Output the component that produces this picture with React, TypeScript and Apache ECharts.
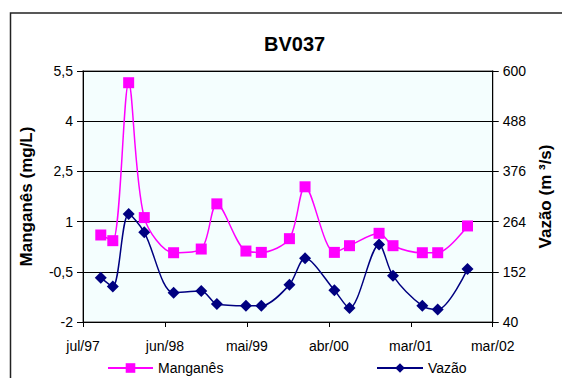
import React, { useEffect, useRef } from "react";
import * as echarts from "echarts";

// Sampling dates (shared by both series)
const sampleDates = [
  "1997-09-13", "1997-11-02", "1998-01-07", "1998-03-13", "1998-07-13", "1998-11-05",
  "1999-01-09", "1999-05-10", "1999-07-13", "1999-11-07", "2000-01-11", "2000-05-12",
  "2000-07-14", "2000-11-14", "2001-01-11", "2001-05-13", "2001-07-16", "2001-11-17",
];
// Manganês (mg/L)
const manganes = [0.6, 0.43, 5.15, 1.12, 0.07, 0.18, 1.53, 0.12, 0.08, 0.49, 2.04, 0.08, 0.28, 0.65, 0.28, 0.07, 0.07, 0.87];
// Vazão (m3/s)
const vazao = [139, 119, 281, 240, 105, 109, 80, 76, 76, 123, 182, 111, 71, 213, 143, 76, 68, 158];

const axisStart = "1997-07-01";
const axisStepDays = 341;
const axisSteps = 5;
const monthNames = ["jan", "fev", "mar", "abr", "mai", "jun", "jul", "ago", "set", "out", "nov", "dez"];
const leftTicks = { min: -2, max: 5.5, interval: 1.5 };
const rightTicks = { min: 40, max: 600, interval: 112 };

const DAY = 86400000;
const startMs = Date.parse(axisStart + "T00:00:00Z");
const toDays = (s: string) => (Date.parse(s + "T00:00:00Z") - startMs) / DAY;

const FONT = "Liberation Sans, Arial, sans-serif";

export default function App() {
  const ref = useRef<HTMLDivElement>(null);
  useEffect(() => {
    if (!ref.current) return;
    const chart = echarts.init(ref.current, undefined, { renderer: "svg" });
    const mnData = sampleDates.map((d, i) => [toDays(d), manganes[i]]);
    const vzData = sampleDates.map((d, i) => [toDays(d), vazao[i]]);
    chart.setOption({
      animation: false,
      backgroundColor: "#ffffff",
      textStyle: { fontFamily: FONT },
      title: {
        text: "BV037",
        left: 259,
        top: 29,
        textStyle: { fontSize: 20, fontWeight: "bold", color: "#000", fontFamily: FONT },
      },
      graphic: [
        {
          type: "rect",
          shape: { x: 10.5, y: 13, width: 600, height: 400 },
          style: { fill: "none", stroke: "#222", lineWidth: 1.5 },
          silent: true,
          z: -1,
        },
      ],
      grid: {
        left: 83,
        right: 64,
        top: 71,
        bottom: 56,
        show: true,
        backgroundColor: "#F4FEFE",
        borderColor: "#808080",
        borderWidth: 1.5,
      },
      legend: [
        {
          data: ["Manganês"],
          left: 107,
          top: 361,
          itemWidth: 45,
          itemHeight: 12,
          itemGap: 4,
          padding: 0,
          textStyle: { fontSize: 14, color: "#000", fontFamily: FONT },
        },
        {
          data: ["Vazão"],
          left: 376,
          top: 361,
          itemWidth: 46,
          itemHeight: 12,
          itemGap: 4,
          padding: 0,
          textStyle: { fontSize: 14, color: "#000", fontFamily: FONT },
        },
      ],
      xAxis: {
        type: "value",
        min: 0,
        max: axisStepDays * axisSteps,
        interval: axisStepDays,
        axisLine: { show: true, onZero: false, lineStyle: { color: "#000", width: 1 } },
        axisTick: { show: true, length: 5, lineStyle: { color: "#000" } },
        splitLine: { show: false },
        axisLabel: {
          margin: 17,
          fontSize: 14,
          color: "#000",
          fontFamily: FONT,
          formatter: (v: number) => {
            const d = new Date(startMs + v * DAY);
            return monthNames[d.getUTCMonth()] + "/" + String(d.getUTCFullYear()).slice(2);
          },
        },
      },
      yAxis: [
        {
          type: "value",
          min: leftTicks.min,
          max: leftTicks.max,
          interval: leftTicks.interval,
          name: "Manganês (mg/L)",
          nameLocation: "middle",
          nameRotate: 90,
          nameGap: 48,
          nameTextStyle: { fontSize: 17, fontWeight: "bold", color: "#000", fontFamily: FONT },
          axisLine: { show: true, onZero: false, lineStyle: { color: "#000", width: 1 } },
          axisTick: { show: true, length: 6, lineStyle: { color: "#000" } },
          splitLine: { show: true, lineStyle: { color: "#000", width: 1 } },
          axisLabel: {
            margin: 10,
            fontSize: 14,
            color: "#000",
            fontFamily: FONT,
            formatter: (v: number) => String(v).replace(".", ","),
          },
        },
        {
          type: "value",
          min: rightTicks.min,
          max: rightTicks.max,
          interval: rightTicks.interval,
          position: "right",
          name: "Vazão (m ³/s)",
          nameLocation: "middle",
          nameRotate: 90,
          nameGap: 42,
          nameTextStyle: { fontSize: 17, fontWeight: "bold", color: "#000", fontFamily: FONT },
          axisLine: { show: true, onZero: false, lineStyle: { color: "#000", width: 1 } },
          axisTick: { show: true, length: 6, lineStyle: { color: "#000" } },
          splitLine: { show: false },
          axisLabel: { margin: 10, fontSize: 14, color: "#000", fontFamily: FONT },
        },
      ],
      series: [
        {
          name: "Manganês",
          type: "line",
          yAxisIndex: 0,
          data: mnData,
          smooth: 0.3,
          symbol: "rect",
          symbolSize: 11,
          lineStyle: { color: "#FF00FF", width: 1.5 },
          itemStyle: { color: "#FF00FF" },
          z: 3,
        },
        {
          name: "Vazão",
          type: "line",
          yAxisIndex: 1,
          data: vzData,
          smooth: 0.3,
          symbol: "diamond",
          symbolSize: 12,
          lineStyle: { color: "#000080", width: 1.5 },
          itemStyle: { color: "#000080" },
          z: 2,
        },
      ],
    });
    return () => chart.dispose();
  }, []);
  return (
    <div
      ref={ref}
      style={{ position: "fixed", left: 0, top: 0, width: 562, height: 378 }}
    />
  );
}
